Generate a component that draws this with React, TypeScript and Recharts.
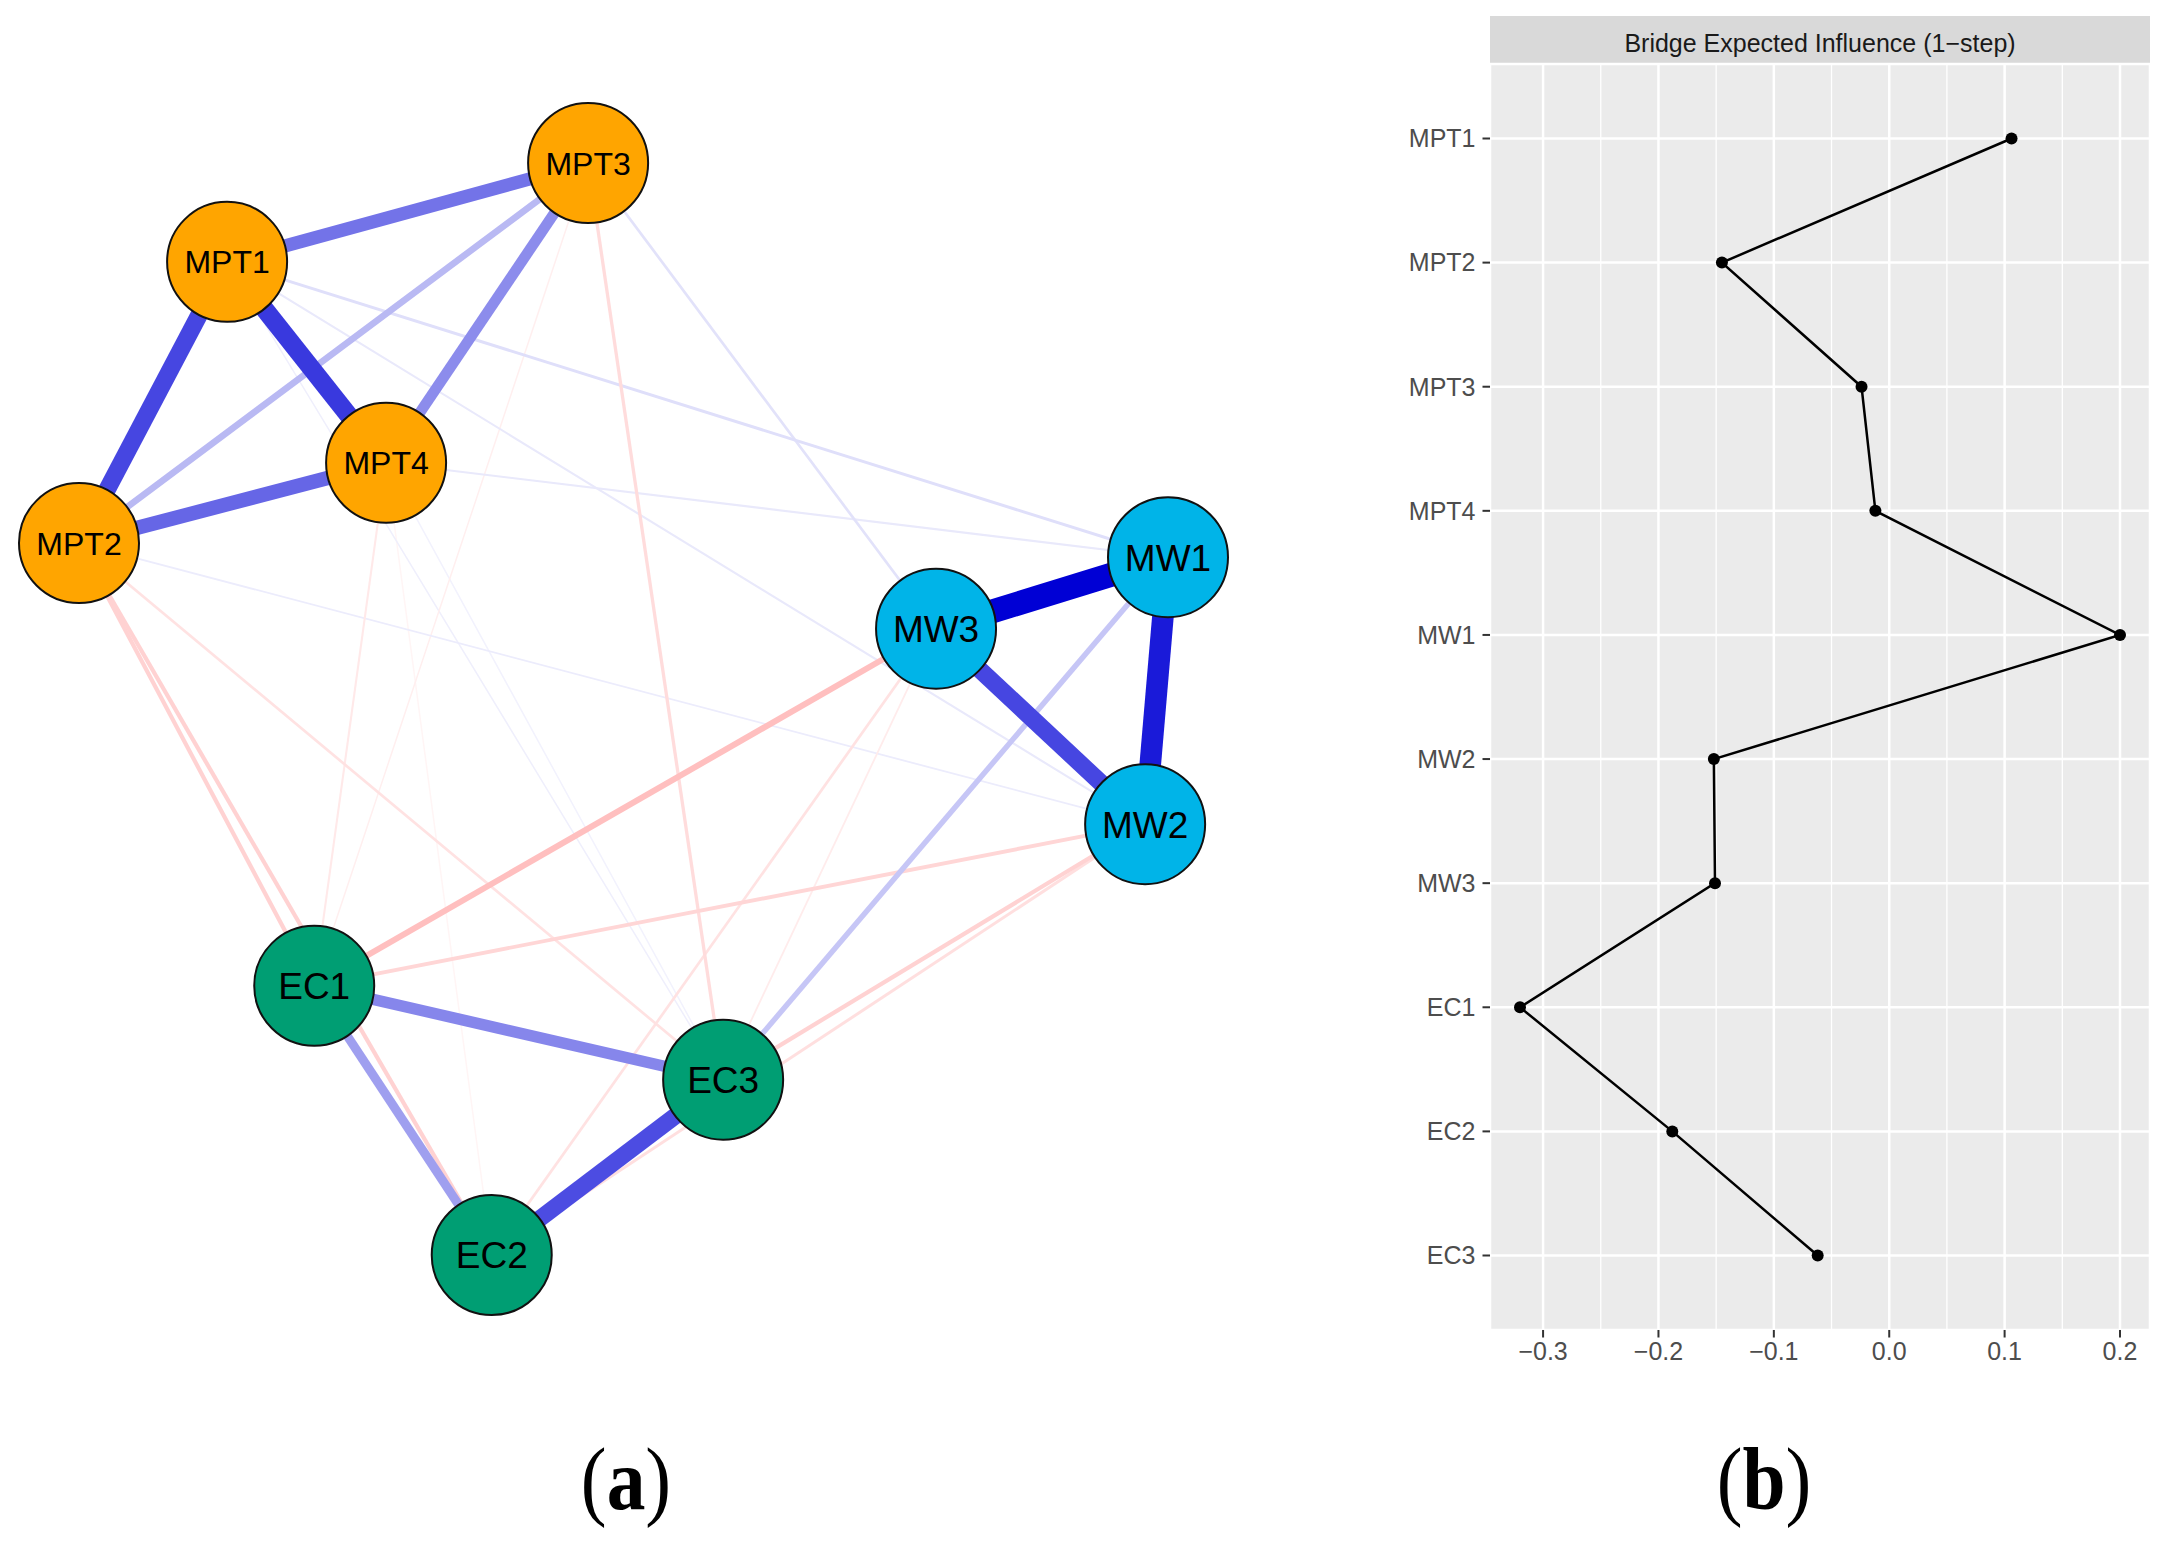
import React from 'react';
import { ScatterChart, Scatter, XAxis, YAxis, LineChart, Line, CartesianGrid } from 'recharts';

// (a) network: node layout (qgraph-style coordinates in [-1, 1])
const nodeNames = ['MPT1', 'MPT2', 'MPT3', 'MPT4', 'MW1', 'MW2', 'MW3', 'EC1', 'EC2', 'EC3'];
const nodeGroups = ['MPT', 'MPT', 'MPT', 'MPT', 'MW', 'MW', 'MW', 'EC', 'EC', 'EC'];
const layoutX = [-0.728, -1.0, -0.065, -0.436, 1.0, 0.958, 0.574, -0.568, -0.242, 0.183];
const layoutY = [0.819, 0.304, 1.0, 0.451, 0.278, -0.211, 0.147, -0.507, -1.0, -0.679];

// edges: [from, to, partial correlation]
const edges: [string, string, number][] = [
  ['MW1', 'MW3', 0.4],
  ['MW1', 'MW2', 0.36],
  ['MW2', 'MW3', 0.29],
  ['MPT1', 'MPT4', 0.31],
  ['MPT1', 'MPT2', 0.29],
  ['EC2', 'EC3', 0.28],
  ['MPT1', 'MPT3', 0.22],
  ['MPT2', 'MPT4', 0.24],
  ['EC1', 'EC3', 0.19],
  ['MPT3', 'MPT4', 0.18],
  ['EC1', 'EC2', 0.15],
  ['MPT2', 'MPT3', 0.11],
  ['EC3', 'MW1', 0.09],
  ['MPT1', 'MW1', 0.05],
  ['MPT3', 'MW3', 0.045],
  ['MPT4', 'MW1', 0.035],
  ['MPT1', 'MW2', 0.035],
  ['MPT2', 'MW2', 0.03],
  ['MPT1', 'EC3', 0.025],
  ['MPT4', 'EC3', 0.02],
  ['MW3', 'EC1', -0.1],
  ['MW2', 'EC1', -0.065],
  ['MPT2', 'EC1', -0.07],
  ['MPT2', 'EC2', -0.07],
  ['MW2', 'EC3', -0.07],
  ['MW2', 'EC2', -0.05],
  ['MPT3', 'EC3', -0.055],
  ['MPT2', 'EC3', -0.045],
  ['MW3', 'EC2', -0.045],
  ['MW3', 'EC3', -0.03],
  ['MPT4', 'EC1', -0.035],
  ['MPT3', 'EC1', -0.025],
  ['MPT4', 'EC2', -0.015],
];

// (b) bridge expected influence
const bridgeNodes = ['MPT1', 'MPT2', 'MPT3', 'MPT4', 'MW1', 'MW2', 'MW3', 'EC1', 'EC2', 'EC3'];
const bridgeValues = [0.106, -0.145, -0.024, -0.012, 0.2, -0.152, -0.151, -0.32, -0.188, -0.062];
const xTicks = [-0.3, -0.2, -0.1, 0, 0.1, 0.2];
const xMinorTicks = [-0.25, -0.15, -0.05, 0.05, 0.15];

const groupColor: Record<string, string> = { MPT: '#FFA500', MW: '#00B4E8', EC: '#009E73' };
const MAX_W = 0.4;

function edgeStyle(w: number) {
  const a = Math.min(1, Math.abs(w) / MAX_W);
  const base = w > 0 ? [0, 0, 213] : [255, 0, 0];
  const mix = base.map((c) => Math.round(255 + (c - 255) * a));
  return { stroke: `rgb(${mix.join(',')})`, strokeWidth: Math.max(1.5, 24 * a) };
}

const nodes = nodeNames.map((name, i) => ({ name, group: nodeGroups[i], x: layoutX[i], y: layoutY[i] }));
const nodeByName: Record<string, (typeof nodes)[number]> = {};
nodes.forEach((n) => (nodeByName[n.name] = n));

const sortedEdges = [...edges].sort((a, b) => Math.abs(a[2]) - Math.abs(b[2]));

const bridgeData = bridgeNodes.map((node, i) => ({ node, value: bridgeValues[i] }));

const fmt = (v: number) => (v < 0 ? '\u2212' : '') + Math.abs(v).toFixed(1);

const NodeShape = (props: any) => {
  const { cx, cy, payload } = props;
  const size = payload.name.length >= 4 ? 32 : 37;
  return (
    <g>
      <circle cx={cx} cy={cy} r={60} fill={groupColor[payload.group]} stroke="#111" strokeWidth={2} />
      <text x={cx} y={cy} dy="0.36em" textAnchor="middle" fontSize={size} fill="#000">
        {payload.name}
      </text>
    </g>
  );
};

const captionStyle: React.CSSProperties = {
  position: 'absolute',
  width: 300,
  top: 1436,
  textAlign: 'center',
  fontFamily: '"Liberation Serif", "Times New Roman", serif',
  fontSize: 88,
  lineHeight: '88px',
  color: '#000',
  transform: 'scaleX(0.88)',
};

export default function App() {
  return (
    <div
      style={{
        position: 'absolute',
        left: 0,
        top: 0,
        width: 2168,
        height: 1545,
        background: '#fff',
        fontFamily: '"Liberation Sans", Arial, sans-serif',
      }}
    >
      <div style={{ position: 'absolute', left: 0, top: 0 }}>
        <ScatterChart width={1300} height={1420} margin={{ top: 163, right: 132, bottom: 165, left: 79 }}>
          <XAxis type="number" dataKey="x" domain={[-1, 1]} hide />
          <YAxis type="number" dataKey="y" domain={[-1, 1]} hide />
          {sortedEdges.map(([from, to, w], i) => {
            const s = edgeStyle(w);
            const a = nodeByName[from];
            const b = nodeByName[to];
            return (
              <Scatter
                key={`e${i}`}
                data={[{ x: a.x, y: a.y }, { x: b.x, y: b.y }]}
                fill="none"
                line={{ stroke: s.stroke, strokeWidth: s.strokeWidth, strokeLinecap: 'butt' }}
                shape={() => <g />}
                legendType="none"
                isAnimationActive={false}
              />
            );
          })}
          <Scatter data={nodes} shape={NodeShape} legendType="none" isAnimationActive={false} />
        </ScatterChart>
      </div>

      <div
        style={{
          position: 'absolute',
          left: 1490,
          top: 16,
          width: 660,
          height: 48,
          background: '#D9D9D9',
          color: '#1A1A1A',
          fontSize: 25,
          lineHeight: '54px',
          textAlign: 'center',
          overflow: 'hidden',
        }}
      >
        Bridge Expected Influence (1{'\u2212'}step)
      </div>

      <div style={{ position: 'absolute', left: 1380, top: 0 }}>
        <LineChart
          layout="vertical"
          width={788}
          height={1400}
          data={bridgeData}
          margin={{ top: 64, right: 18, bottom: 0, left: 0 }}
        >
          <CartesianGrid fill="#EBEBEB" stroke="#FFFFFF" strokeWidth={2.5} />
          <CartesianGrid xAxisId="minor" horizontal={false} stroke="#FFFFFF" strokeWidth={1.3} />
          <XAxis
            type="number"
            dataKey="value"
            domain={[-0.346, 0.226]}
            allowDataOverflow
            ticks={xTicks}
            interval={0}
            tickFormatter={fmt}
            height={70}
            tickSize={7.5}
            tickMargin={5}
            axisLine={false}
            tickLine={{ stroke: '#333333', strokeWidth: 2 }}
            tick={{ fill: '#4D4D4D', fontSize: 25 }}
          />
          <XAxis
            xAxisId="minor"
            type="number"
            domain={[-0.346, 0.226]}
            allowDataOverflow
            ticks={xMinorTicks}
            interval={0}
            hide
          />
          <YAxis
            type="category"
            dataKey="node"
            width={110}
            interval={0}
            padding={{ top: 74.5, bottom: 74.5 }}
            tickSize={7.5}
            tickMargin={7}
            axisLine={false}
            tickLine={{ stroke: '#333333', strokeWidth: 2 }}
            tick={{ fill: '#4D4D4D', fontSize: 25 }}
          />
          <Line
            dataKey="value"
            stroke="#000"
            strokeWidth={2.5}
            dot={{ r: 6, fill: '#000', stroke: '#000', strokeWidth: 0 }}
            isAnimationActive={false}
          />
        </LineChart>
      </div>

      <div style={{ ...captionStyle, left: 626 - 150 }}>
        (<b>a</b>)
      </div>
      <div style={{ ...captionStyle, left: 1764 - 150 }}>
        (<b>b</b>)
      </div>
    </div>
  );
}
